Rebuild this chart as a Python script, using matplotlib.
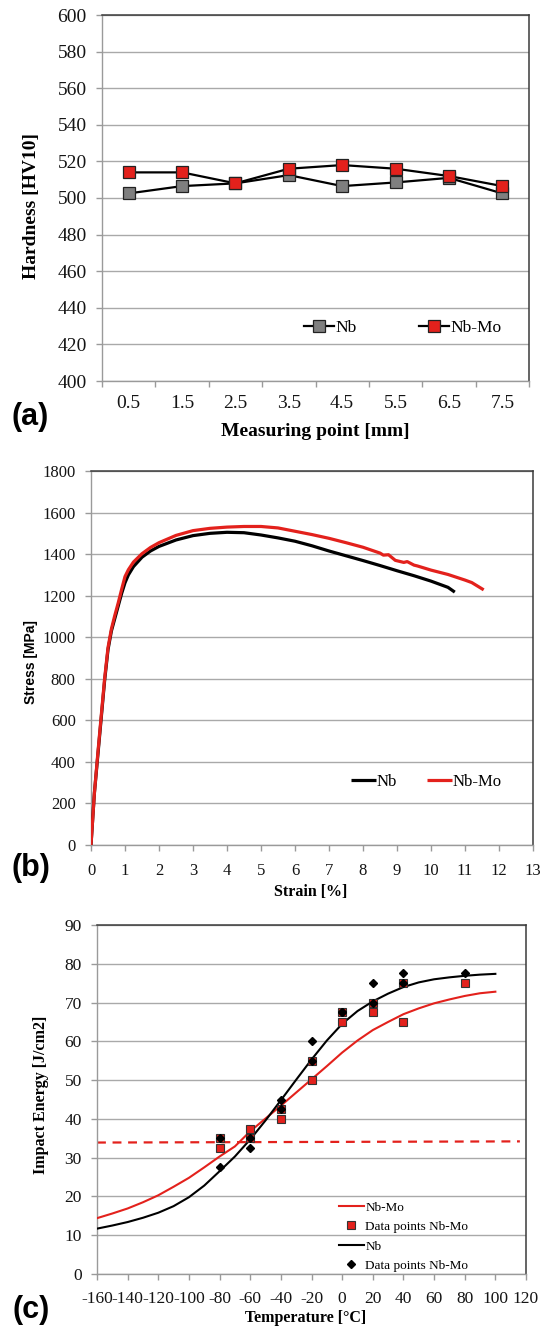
import matplotlib
matplotlib.use('Agg')
import matplotlib.pyplot as plt

# ---------------- data ----------------
# (a) hardness profile
positions = ["0.5", "1.5", "2.5", "3.5", "4.5", "5.5", "6.5", "7.5"]
hard_nb = [502.5, 506.5, 508, 512.5, 506.5, 508.5, 511, 502.5]
hard_nbmo = [514, 514, 508, 516, 518, 516, 512, 506.5]

# (b) stress-strain curves
nb_strain = [0, 0.1, 0.2, 0.3, 0.4, 0.5, 0.6, 0.7, 0.8, 0.9, 1.0, 1.1, 1.25, 1.5,
             1.75, 2.0, 2.5, 3.0, 3.5, 4.0, 4.5, 5.0, 5.5, 6.0, 6.5, 7.0, 7.5, 8.0,
             8.5, 9.0, 9.5, 10.0, 10.5, 10.7]
nb_stress = [0, 250, 430, 610, 790, 940, 1030, 1090, 1150, 1210, 1262, 1300, 1340, 1385,
             1415, 1437, 1468, 1489, 1500, 1505, 1503, 1492, 1478, 1462, 1440, 1415, 1392,
             1369, 1345, 1320, 1296, 1270, 1240, 1217]
nbmo_strain = [0, 0.1, 0.2, 0.3, 0.4, 0.5, 0.6, 0.7, 0.8, 0.9, 1.0, 1.1, 1.25, 1.5,
               1.75, 2.0, 2.5, 3.0, 3.5, 4.0, 4.5, 5.0, 5.5, 6.0, 6.5, 7.0, 7.5, 8.0,
               8.5, 8.6, 8.75, 8.95, 9.2, 9.3, 9.5, 9.6, 10.0, 10.5, 11.0, 11.2, 11.55]
nbmo_stress = [0, 250, 440, 620, 800, 950, 1040, 1105, 1165, 1230, 1292, 1325, 1362, 1402,
               1432, 1455, 1490, 1513, 1524, 1530, 1533, 1533, 1526, 1510, 1494, 1476, 1455,
               1433, 1405, 1395, 1397, 1370, 1360, 1364, 1347, 1343, 1323, 1302, 1275, 1263,
               1228]

# (c) impact energy
curve_temp = [-160, -150, -140, -130, -120, -110, -100, -90, -80, -70, -60, -50, -40,
              -30, -20, -10, 0, 10, 20, 30, 40, 50, 60, 70, 80, 90, 100]
curve_nbmo = [14.4, 15.6, 16.9, 18.5, 20.3, 22.5, 24.8, 27.5, 30.3, 32.9, 36.8, 40.1,
              43.4, 46.8, 50.2, 53.6, 57.1, 60.2, 62.9, 65.0, 67.0, 68.5, 69.8, 70.8,
              71.7, 72.4, 72.8]
curve_nb = [11.7, 12.5, 13.4, 14.5, 15.8, 17.5, 19.8, 22.8, 26.5, 30.3, 34.7, 39.6,
            44.8, 50.1, 55.3, 60.2, 64.5, 67.8, 70.3, 72.3, 74.0, 75.2, 76.0, 76.5,
            76.9, 77.2, 77.4]
pts_nbmo_T = [-80, -80, -60, -60, -40, -40, -20, -20, 0, 0, 20, 20, 40, 40, 80]
pts_nbmo_E = [35, 32.5, 37.5, 35, 42.5, 40, 55, 50, 67.5, 65, 70, 67.5, 75, 65, 75]
pts_nb_T = [-80, -80, -60, -60, -40, -40, -20, -20, 0, 0, 20, 20, 40, 40, 80]
pts_nb_E = [35, 27.5, 35, 32.5, 45, 42.5, 60, 55, 67.5, 67.5, 75, 70, 77.5, 75, 77.5]
ref_T = [-160, 116]
ref_E = [33.9, 34.2]

# ---------------- style ----------------
W, H = 549, 1330
SERIF = ['Liberation Serif', 'DejaVu Serif']
SANS = ['Liberation Sans', 'DejaVu Sans']
plt.rcParams['font.family'] = SERIF
plt.rcParams['axes.unicode_minus'] = False

GRID = '#a9a9a9'
AXC = '#9a9a9a'
FRAME = '#3a3a3a'
RED = '#e3211c'

fig = plt.figure(figsize=(W / 100, H / 100), dpi=100)


def rect(l, t, r, b):
    return [l / W, 1 - b / H, (r - l) / W, (b - t) / H]


def style(ax, size):
    ax.grid(axis='y', color=GRID, lw=1.0)
    ax.grid(axis='x', visible=False)
    ax.set_axisbelow(True)
    for s in ['left', 'bottom']:
        ax.spines[s].set_color(AXC)
        ax.spines[s].set_linewidth(1.0)
    for s in ['top', 'right']:
        ax.spines[s].set_color(FRAME)
        ax.spines[s].set_linewidth(1.1)
    ax.tick_params(axis='both', which='both', colors=AXC, labelcolor='#141414',
                   labelsize=size, length=4.0, width=1.0, pad=7)
    for lab in ax.get_xticklabels() + ax.get_yticklabels():
        lab.set_family(SERIF)


# ---------------- (a) ----------------
axa = fig.add_axes(rect(102, 15, 529, 381))
xa = list(range(len(positions)))
axa.plot(xa, hard_nb, color='black', lw=1.6, marker='s', ms=8.8,
         mfc='#7f7f7f', mec='#222222', mew=0.9, label='Nb', zorder=3)
axa.plot(xa, hard_nbmo, color='black', lw=1.6, marker='s', ms=8.8,
         mfc=RED, mec='#222222', mew=0.9, label='Nb-Mo', zorder=4)
axa.set_xlim(-0.5, len(positions) - 0.5)
axa.set_ylim(400, 600)
axa.set_yticks(range(400, 601, 20))
axa.set_xticks(xa)
axa.set_xticklabels(positions)
axa.set_xticks([i - 0.5 for i in range(len(positions) + 1)], minor=True)
style(axa, 14)
axa.tick_params(axis='x', which='major', length=0, pad=10)
axa.tick_params(axis='x', which='minor', length=4)
axa.set_xlabel('Measuring point [mm]', fontsize=14, fontweight='bold')
axa.xaxis.label.set_verticalalignment('center')
axa.xaxis.set_label_coords(0.499, -0.139)
axa.set_ylabel('Hardness [HV10]', fontsize=14, fontweight='bold')
axa.yaxis.label.set_verticalalignment('center')
axa.yaxis.set_label_coords(-0.166, 0.478)
axa.legend(loc='center left', bbox_to_anchor=(0.473, 0.145), ncol=2, frameon=False,
           handlelength=1.75, handletextpad=0.05, columnspacing=3.6, borderpad=0,
           borderaxespad=0, fontsize=12.5)

# ---------------- (b) ----------------
axb = fig.add_axes(rect(91, 471, 533, 845))
axb.plot(nb_strain, nb_stress, color='black', lw=2.3, label='Nb', zorder=3,
         solid_capstyle='butt')
axb.plot(nbmo_strain, nbmo_stress, color=RED, lw=2.3, label='Nb-Mo', zorder=4,
         solid_capstyle='butt')
axb.set_xlim(0, 13)
axb.set_ylim(0, 1800)
axb.set_xticks(range(0, 14))
axb.set_yticks(range(0, 1801, 200))
style(axb, 12)
axb.tick_params(axis='x', pad=9)
axb.set_xlabel('Strain [%]', fontsize=11.5, fontweight='bold')
axb.xaxis.label.set_verticalalignment('center')
axb.xaxis.set_label_coords(0.498, -0.126)
axb.set_ylabel('Stress [MPa]', fontsize=10, fontweight='bold', family=SANS)
axb.yaxis.label.set_verticalalignment('center')
axb.yaxis.set_label_coords(-0.136, 0.489)
axb.legend(loc='center left', bbox_to_anchor=(0.588, 0.168), ncol=2, frameon=False,
           handlelength=1.5, handletextpad=0.05, columnspacing=1.8, borderpad=0,
           borderaxespad=0, fontsize=12)

# ---------------- (c) ----------------
axc = fig.add_axes(rect(97, 925, 526, 1274))
axc.plot(ref_T, ref_E, color=RED, lw=1.6, dashes=(4, 3), zorder=2)
axc.plot(curve_temp, curve_nbmo, color=RED, lw=1.5, label='Nb-Mo', zorder=3)
axc.plot(pts_nbmo_T, pts_nbmo_E, ls='none', marker='s', ms=6.2, mfc=RED, mec='#333333',
         mew=0.8, label='Data points Nb-Mo', zorder=4)
axc.plot(curve_temp, curve_nb, color='black', lw=1.5, label='Nb', zorder=3)
axc.plot(pts_nb_T, pts_nb_E, ls='none', marker='D', ms=4.3, mfc='black', mec='black',
         label='Data points Nb-Mo', zorder=5)
axc.set_xlim(-160, 120)
axc.set_ylim(0, 90)
axc.set_xticks(range(-160, 121, 20))
axc.set_yticks(range(0, 91, 10))
style(axc, 12.5)
axc.tick_params(axis='x', pad=8)
axc.set_xlabel('Temperature [°C]', fontsize=11.5, fontweight='bold')
axc.xaxis.label.set_verticalalignment('center')
axc.xaxis.set_label_coords(0.487, -0.126)
axc.set_ylabel('Impact Energy [J/cm2]', fontsize=11.5, fontweight='bold')
axc.yaxis.label.set_verticalalignment('center')
axc.yaxis.set_label_coords(-0.1305, 0.513)
axc.legend(loc='center left', bbox_to_anchor=(0.564, 0.107), ncol=1, frameon=False,
           handlelength=1.9, handletextpad=0.1, labelspacing=0.55, borderpad=0,
           borderaxespad=0, fontsize=9.5)

# ---------------- panel letters ----------------
for txt, (px, py) in [('(a)', (30, 417)), ('(b)', (31, 868)), ('(c)', (31, 1310))]:
    fig.text(px / W, 1 - py / H, txt, ha='center', va='center', fontsize=22,
             fontweight='bold', family=SANS)

fig.savefig('out.png', dpi=100)
